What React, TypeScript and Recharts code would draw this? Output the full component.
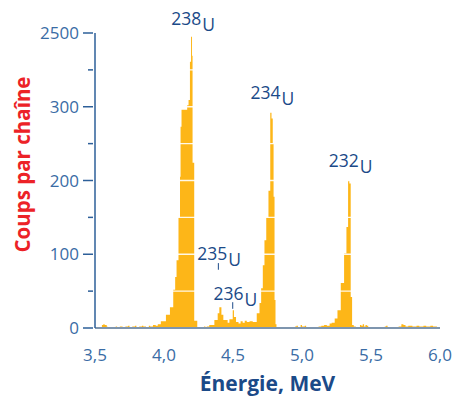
import { Area, AreaChart, Label, ReferenceDot, ReferenceLine, XAxis, YAxis } from 'recharts'

// [énergie MeV, coups] — histogramme (step)
const bgLow = [
  [3.5, 0], [3.51, 0], [3.55, 4], [3.56, 5], [3.57, 4], [3.585, 2], [3.59, 0], [3.61, 1], [3.63, 0],
  [3.65, 2], [3.66, 1], [3.68, 2], [3.7, 1], [3.72, 2], [3.74, 3], [3.75, 1], [3.77, 2], [3.79, 3],
  [3.8, 1], [3.82, 2], [3.84, 3], [3.85, 2], [3.87, 1], [3.89, 3], [3.9, 2], [3.92, 4], [3.94, 3], [3.955, 5],
]
const u238 = [
  [3.977, 9], [4.014, 18], [4.043, 28], [4.067, 52], [4.081, 69], [4.091, 92], [4.105, 150], [4.116, 205],
  [4.12, 273], [4.127, 296], [4.168, 302], [4.178, 309], [4.188, 361], [4.196, 395], [4.203, 369],
  [4.207, 224], [4.219, 10], [4.241, 0],
]
const u235u236 = [
  [4.28, 1], [4.29, 2], [4.3, 0], [4.31, 2], [4.328, 4], [4.365, 11], [4.389, 20], [4.401, 28], [4.416, 18],
  [4.43, 11], [4.461, 7], [4.474, 12], [4.498, 24], [4.507, 15], [4.522, 8], [4.54, 6], [4.555, 9],
  [4.57, 7], [4.585, 10], [4.6, 8], [4.62, 9],
]
const u234 = [
  [4.643, 8], [4.672, 20], [4.692, 34], [4.704, 54], [4.716, 85], [4.728, 119], [4.741, 150], [4.757, 186],
  [4.77, 292], [4.779, 284], [4.788, 250], [4.794, 178], [4.801, 38], [4.808, 5], [4.815, 0],
]
const mid = [
  [4.83, 1], [4.86, 0], [4.95, 2], [4.96, 3], [4.97, 1], [4.99, 4], [5.0, 2], [5.02, 3], [5.03, 1],
  [5.06, 0], [5.1, 1], [5.12, 2], [5.14, 3], [5.16, 4], [5.18, 3], [5.2, 6], [5.215, 7],
]
const u232 = [
  [5.237, 13], [5.257, 24], [5.281, 61], [5.305, 101], [5.322, 137], [5.334, 200], [5.343, 196],
  [5.353, 42], [5.363, 4], [5.375, 2],
]
const tail = [
  [5.39, 0], [5.42, 4], [5.43, 3], [5.44, 5], [5.45, 2], [5.46, 4], [5.47, 3], [5.48, 0], [5.52, 1],
  [5.55, 0], [5.6, 2], [5.61, 3], [5.62, 0], [5.65, 1], [5.68, 0], [5.7, 2], [5.72, 5], [5.735, 4],
  [5.75, 2], [5.77, 3], [5.8, 2], [5.83, 3], [5.85, 2], [5.88, 3], [5.9, 2], [5.93, 3], [5.95, 2], [5.978, 0],
]

const xTicks = [3.5, 4.0, 4.5, 5.0, 5.5, 6.0]
const yTicks = [0, 50, 100, 150, 200, 250, 300, 350, 400]
const yTickText = ['0', '', '100', '', '200', '', '300', '', '2500']
const whiteLines = [50, 100, 150, 200, 250, 300, 350]

// étiquettes des isotopes: [masse, énergie, coups] au début de la ligne de base du texte
const isotopes: [string, number, number][] = [
  ['238', 4.052, 411],
  ['234', 4.626, 310],
  ['232', 5.193, 218],
  ['235', 4.241, 92],
  ['236', 4.358, 38],
]
// petits traits sous 235U et 236U: [énergie, bas, haut]
const pointers = [
  [4.394, 79, 88],
  [4.498, 26, 35],
]

const spectrum = [...bgLow, ...u238, ...u235u236, ...u234, ...mid, ...u232, ...tail].map(([e, c]) => ({ e, c }))

const FONT = '"Open Sans", sans-serif'
const GOLD = '#FDB618'
const AXIS_BLUE = '#2D5F99'
const TICK_BLUE = '#3A6CA5'
const LABEL_BLUE = '#1B4A88'
const X_AXIS = '#7E95AE'

function YTick({ x, y, payload }: any) {
  const label = yTickText[yTicks.indexOf(payload.value)]
  const major = label !== ''
  return (
    <g>
      <line x1={x - (major ? 10 : 5)} x2={x} y1={y} y2={y} stroke={AXIS_BLUE} strokeWidth={1.5} />
      {major && (
        <text x={x - 14} y={y} dy="0.36em" textAnchor="end" fill={TICK_BLUE} fontSize={17} fontFamily={FONT}>
          {label}
        </text>
      )}
    </g>
  )
}

function XTick({ x, y, payload }: any) {
  return (
    <text x={x} y={y + 25} dy="0.36em" textAnchor="middle" fill={TICK_BLUE} fontSize={17} fontFamily={FONT}>
      {payload.value.toFixed(1).replace('.', ',')}
    </text>
  )
}

function IsotopeLabel({ viewBox, mass }: any) {
  return (
    <text x={viewBox.x} y={viewBox.y} fill={LABEL_BLUE} fontSize={17.5} fontFamily={FONT}>
      {mass}
      <tspan dx={1} dy={6}>U</tspan>
    </text>
  )
}

export default function App() {
  return (
    <div style={{ position: 'absolute', left: 0, top: 0, width: 454, height: 399, background: '#fff' }}>
      <AreaChart width={454} height={399} data={spectrum} margin={{ top: 33, right: 14, bottom: 0, left: 0 }}>
        <XAxis
          dataKey="e"
          type="number"
          domain={[3.5, 6]}
          ticks={xTicks}
          interval={0}
          allowDataOverflow
          height={71}
          tickSize={0}
          tickLine={false}
          tick={<XTick />}
          axisLine={{ stroke: X_AXIS, strokeWidth: 2 }}
        >
          <Label
            content={({ viewBox }: any) => (
              <text
                x={viewBox.x + viewBox.width / 2}
                y={viewBox.y + 63}
                textAnchor="middle"
                fill={LABEL_BLUE}
                fontSize={21}
                fontWeight={700}
                fontFamily={FONT}
              >
                Énergie, MeV
              </text>
            )}
          />
        </XAxis>
        <YAxis
          type="number"
          domain={[0, 400]}
          ticks={yTicks}
          interval={0}
          width={95}
          tickSize={0}
          tickLine={false}
          tick={<YTick />}
          axisLine={{ stroke: AXIS_BLUE, strokeWidth: 1.5 }}
        >
          <Label
            content={({ viewBox }: any) => {
              const cx = viewBox.x + 22
              const cy = viewBox.y + viewBox.height / 2 - 16
              return (
                <text
                  x={cx}
                  y={cy}
                  transform={`rotate(-90 ${cx} ${cy})`}
                  textAnchor="middle"
                  dominantBaseline="central"
                  fill="#EC2227"
                  fontSize={20.5}
                  fontWeight={700}
                  fontFamily={FONT}
                >
                  Coups par chaîne
                </text>
              )
            }}
          />
        </YAxis>
        <Area
          type="stepAfter"
          dataKey="c"
          stroke="none"
          fill={GOLD}
          fillOpacity={1}
          isAnimationActive={false}
        />
        {whiteLines.map((v) => (
          <ReferenceLine key={v} y={v} stroke="#fff" strokeOpacity={0.9} strokeWidth={1.3} />
        ))}
        {pointers.map(([e, lo, hi]) => (
          <ReferenceLine
            key={e}
            segment={[{ x: e, y: lo }, { x: e, y: hi }]}
            stroke={LABEL_BLUE}
            strokeWidth={1}
          />
        ))}
        {isotopes.map(([mass, e, c]) => (
          <ReferenceDot
            key={mass}
            x={e}
            y={c}
            r={0}
            fill="none"
            stroke="none"
            ifOverflow="visible"
            label={(p: any) => <IsotopeLabel {...p} mass={mass} />}
          />
        ))}
      </AreaChart>
    </div>
  )
}
